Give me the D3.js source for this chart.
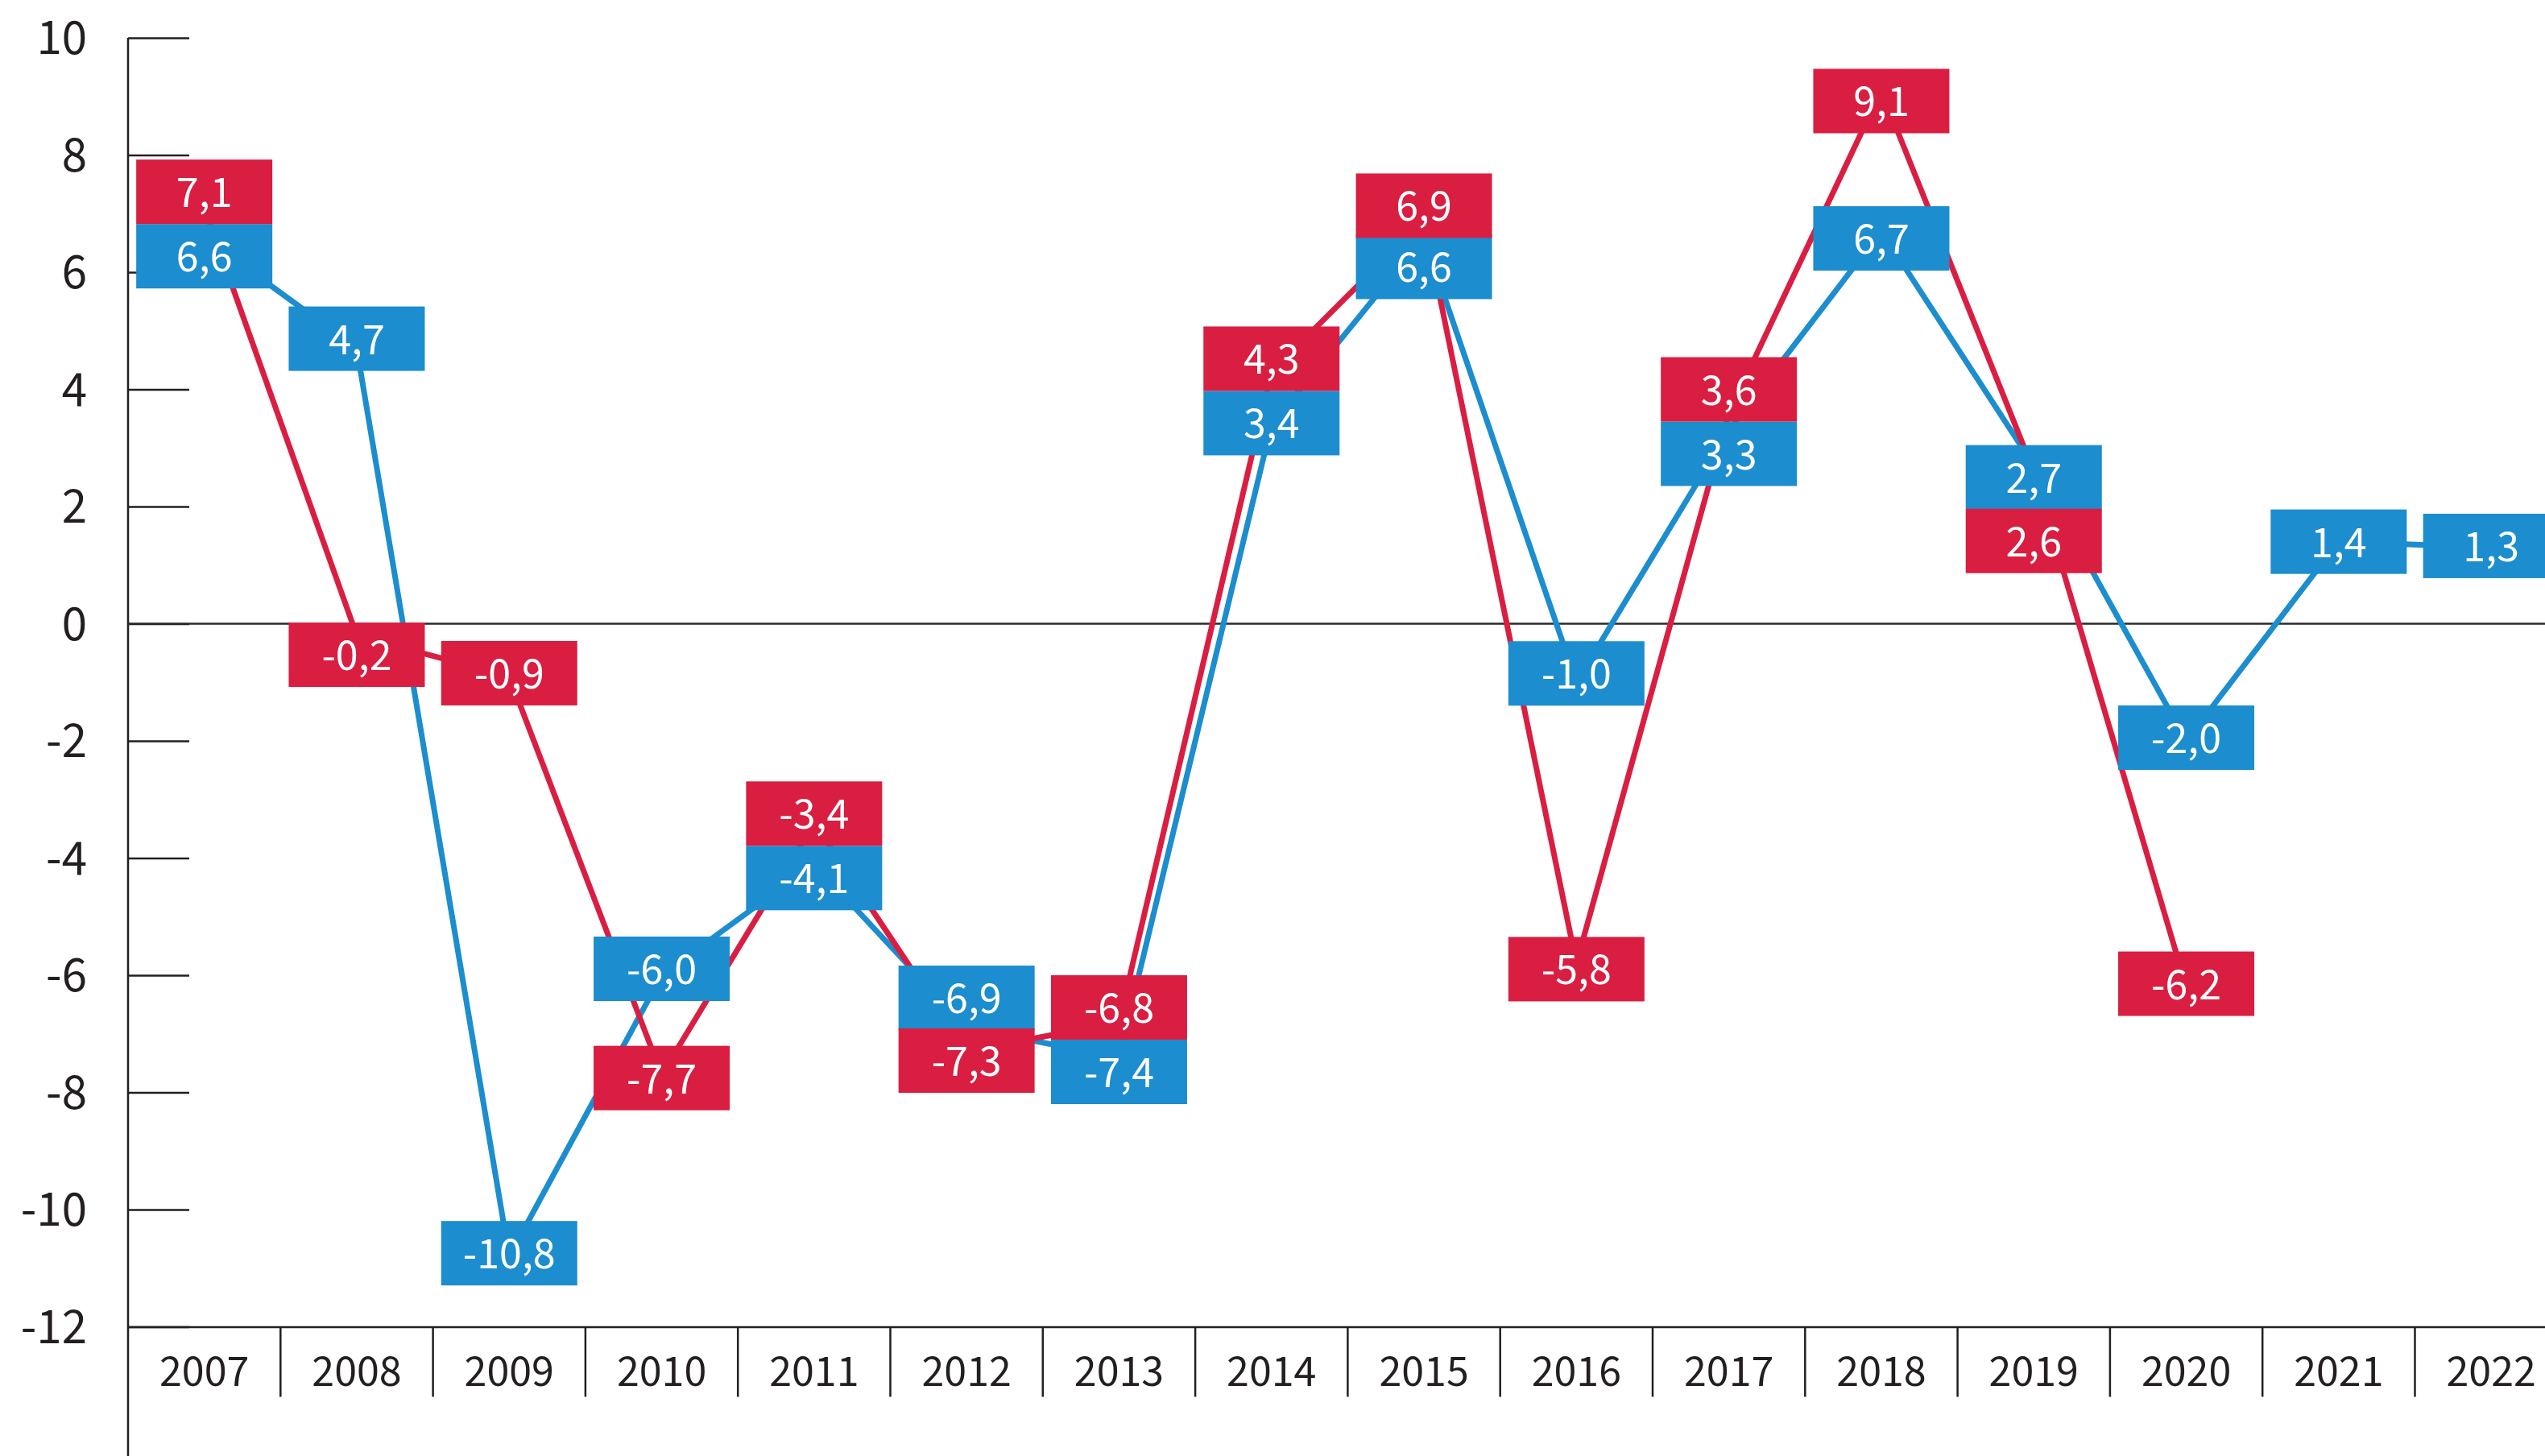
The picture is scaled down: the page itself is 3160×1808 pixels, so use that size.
<!DOCTYPE html>
<html>
<head>
<meta charset="utf-8">
<script src="https://cdn.jsdelivr.net/npm/d3@7"></script>
<style>
  html, body { margin: 0; padding: 0; background: #fff; }
  svg { display: block; }
  text { font-family: "Source Sans Pro", "Source Sans 3", Lato, "Noto Sans", sans-serif; }
</style>
</head>
<body>
<div id="chart"></div>
<script>
// data
const years = [2007, 2008, 2009, 2010, 2011, 2012, 2013, 2014, 2015, 2016, 2017, 2018, 2019, 2020, 2021, 2022]
const redValues = [7.1, -0.2, -0.9, -7.7, -3.4, -7.3, -6.8, 4.3, 6.9, -5.8, 3.6, 9.1, 2.6, -6.2, null, null]
const blueValues = [6.6, 4.7, -10.8, -6.0, -4.1, -6.9, -7.4, 3.4, 6.6, -1.0, 3.3, 6.7, 2.7, -2.0, 1.4, 1.3]
const yTicks = [10, 8, 6, 4, 2, 0, -2, -4, -6, -8, -10, -12]

const RED = "#d91e42"
const BLUE = "#1c8dce"
const INK = "#231f20"

let width = 3160, height = 1808
let plotLeft = 159, plotTop = 47, plotBottom = 1647.5
let band = 189.3
let boxW = 169, boxH = 80

// hand placement of a few value boxes (px, relative to the automatic spot)
const nudge = {
    red:  {2007: 2, 2008: 24, 2009: -4, 2010: 4, 2011: 3, 2012: -14, 2014: -9, 2015: 12, 2016: 7, 2018: 13, 2019: 50, 2020: -4},
    blue: {2007: 2, 2008: -12, 2009: -4, 2010: -8, 2011: 3, 2012: -12, 2014: -9, 2015: 8, 2016: -11, 2018: 9, 2019: 51, 2020: -4, 2022: -2}
}

let svg = d3.select("#chart").append("svg")
    .attr("width", width)
    .attr("height", height)

let x = d3.scaleBand()
    .domain(years)
    .range([plotLeft, plotLeft + band * years.length])
    .paddingInner(0).paddingOuter(0)

let y = d3.scaleLinear()
    .domain([-12, 10])
    .range([plotBottom, plotTop])

let cx = d => x(d) + x.bandwidth() / 2

// y axis: ticks pointing into the plot, labels on the left
let yAxis = svg.append("g")
    .attr("transform", `translate(${plotLeft},0)`)
    .call(d3.axisLeft(y).tickValues(yTicks).tickSize(-76).tickPadding(51).tickFormat(d => String(d)))
yAxis.select(".domain").remove()
yAxis.selectAll(".tick line").attr("stroke", INK).attr("stroke-width", 2.5)
yAxis.selectAll(".tick text")
    .attr("fill", INK)
    .attr("dy", "0.31em")
    .style("font-size", "63px")

svg.append("line")
    .attr("x1", plotLeft).attr("x2", plotLeft)
    .attr("y1", y(10)).attr("y2", height)
    .attr("stroke", INK).attr("stroke-width", 2.5)

// zero line
svg.append("line")
    .attr("x1", plotLeft).attr("x2", width)
    .attr("y1", y(0)).attr("y2", y(0))
    .attr("stroke", "#2a2a2a").attr("stroke-width", 2.4)

// x axis with separators between the years
let xAxis = svg.append("g")
    .attr("transform", `translate(0,${y(-12)})`)
    .call(d3.axisBottom(x).tickSize(0).tickSizeOuter(0))
xAxis.select(".domain").attr("stroke", INK).attr("stroke-width", 2.5)
xAxis.selectAll(".tick text")
    .attr("y", 73)
    .attr("dy", 0)
    .attr("fill", INK)
    .style("font-size", "56px")

svg.append("g")
    .selectAll("line")
    .data(years.slice(1))
    .join("line")
    .attr("x1", d => x(d)).attr("x2", d => x(d))
    .attr("y1", y(-12)).attr("y2", y(-12) + 87)
    .attr("stroke", INK).attr("stroke-width", 2.5)

// series
let series = [
    {key: "blue", color: BLUE, values: blueValues},
    {key: "red", color: RED, values: redValues}
]

let line = d3.line()
    .defined(d => d.v != null)
    .x(d => cx(d.year))
    .y(d => y(d.v))

for (let s of series) {
    let pts = years.map((yr, i) => ({year: yr, v: s.values[i]}))
    svg.append("path")
        .datum(pts)
        .attr("d", line)
        .attr("fill", "none")
        .attr("stroke", s.color)
        .attr("stroke-width", 7)
        .attr("stroke-linejoin", "miter")
}

// label boxes: centred on the point, stacked when the two collide
let boxes = []
years.forEach((yr, i) => {
    let r = redValues[i], b = blueValues[i]
    let yr_ = r != null ? y(r) : null
    let yb_ = b != null ? y(b) : null
    let posR = yr_, posB = yb_
    if (r != null && b != null && Math.abs(yr_ - yb_) < boxH) {
        let mid = (yr_ + yb_) / 2
        if (r >= b) { posR = mid - boxH / 2; posB = mid + boxH / 2 }
        else { posB = mid - boxH / 2; posR = mid + boxH / 2 }
    }
    if (b != null) boxes.push({key: "blue", year: yr, v: b, c: posB + (nudge.blue[yr] || 0)})
    if (r != null) boxes.push({key: "red", year: yr, v: r, c: posR + (nudge.red[yr] || 0)})
})

for (let s of series) {
    let g = svg.append("g")
        .selectAll("g")
        .data(boxes.filter(d => d.key === s.key))
        .join("g")
        .attr("transform", d => `translate(${cx(d.year)},${d.c})`)

    g.append("rect")
        .attr("x", -boxW / 2)
        .attr("y", -boxH / 2)
        .attr("width", boxW)
        .attr("height", boxH)
        .attr("fill", s.color)

    g.append("text")
        .attr("text-anchor", "middle")
        .attr("y", 19)
        .attr("fill", "#fff")
        .style("font-size", "56px")
        .text(d => d.v.toFixed(1).replace(".", ","))
}
</script>
</body>
</html>
